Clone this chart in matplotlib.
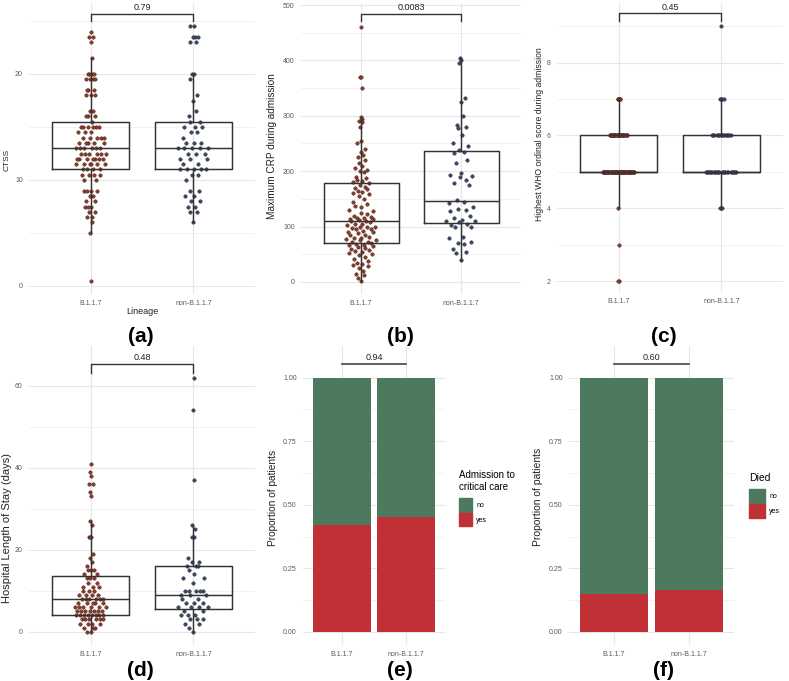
import numpy as np
import matplotlib.pyplot as plt
from matplotlib.patches import Patch

plt.rcParams['font.family'] = ['Liberation Sans', 'DejaVu Sans']

W, H = 789, 681

lineages = ['B.1.1.7', 'non-B.1.1.7']

# (a) CT severity score
ctss_b117 = [24, 23.5, 23.5, 23, 21.5, 20, 20, 20, 20, 19.5, 19.5, 19.5, 19.5,
             18.5, 18.5, 18.5, 18, 18, 18, 16.5, 16.5, 16, 16, 16, 15.5,
             15, 15, 15, 15, 15, 15, 14.5, 14.5, 14.5, 14, 14, 14, 14, 14,
             13.5, 13.5, 13.5, 13.5, 13.5, 13, 13, 13, 13, 13, 13,
             12.5, 12.5, 12.5, 12.5, 12.5, 12.5, 12, 12, 12, 12, 12, 12, 12,
             11.5, 11.5, 11.5, 11.5, 11.5, 11.5, 11, 11, 11, 11,
             10.5, 10.5, 10.5, 10.5, 10, 10, 9, 9, 9, 9, 8.5, 8.5, 8, 8,
             7.5, 7.5, 7.5, 7, 7, 6.5, 6.5, 6, 5, 0.5]
ctss_non = [24.5, 24.5, 23.5, 23.5, 23.5, 23, 23, 20, 20, 19.5, 18, 17.5, 16.5, 16,
            15.5, 15.5, 15, 15, 15, 14.5, 14.5, 14, 13.5, 13.5, 13.5,
            13, 13, 13, 13, 13, 12.5, 12.5, 12.5, 12, 12, 12, 11.5, 11.5,
            11, 11, 11, 11, 11, 10.5, 10.5, 10, 9, 9, 8.5, 8.5, 8, 8,
            7.5, 7.5, 7, 7, 6]

# (b) maximum CRP during admission
crp_b117 = [461, 370, 370, 350, 297, 295, 290, 288, 280, 255,
            250, 240, 235, 230, 225, 220, 215, 210, 205, 203,
            200, 198, 190, 188, 185, 182, 180, 178, 175, 172,
            170, 168, 165, 162, 160, 158, 155, 150, 145, 140,
            138, 135, 130, 128, 125, 122, 120, 118, 115, 115,
            114, 113, 112, 110, 110, 108, 105, 105, 102, 100,
            100, 100, 98, 95, 95, 92, 90, 90, 88, 85,
            85, 82, 80, 80, 78, 75, 75, 72, 72, 70,
            68, 67, 66, 65, 63, 62, 60, 58, 56, 55,
            52, 50, 48, 45, 42, 38, 35, 32, 30, 28,
            25, 20, 15, 12, 8, 2]
crp_non = [405, 400, 395, 332, 325, 300, 283, 280, 278, 265,
           250, 245, 238, 235, 232, 220, 215, 196, 193, 192,
           190, 184, 178, 175, 145, 148, 142, 135, 132, 130,
           128, 120, 115, 112, 110, 110, 108, 105, 103, 100,
           100, 82, 80, 72, 70, 68, 60, 55, 52, 40]

# (c) highest WHO ordinal score: score levels and counts
who_levels = [2, 3, 4, 5, 6, 7, 9]
who_counts_b117 = [2, 1, 1, 55, 30, 6, 0]
who_counts_non = [0, 0, 3, 25, 15, 4, 1]

# (d) hospital length of stay (days)
los_b117 = [41, 39, 38, 36, 36, 34, 33, 27, 26, 23, 23, 23, 19, 18, 17, 16,
            15, 15, 15, 14, 14, 13, 13, 13, 12, 12, 11, 11, 11, 10, 10, 10,
            9, 9, 9, 9, 8, 8, 8, 8, 8, 8, 7, 7, 7, 7, 7, 6, 6, 6, 6, 6, 6,
            5, 5, 5, 5, 5, 5, 5, 4, 4, 4, 4, 4, 4, 4, 4, 3, 3, 3, 3, 3, 3,
            2, 2, 2, 2, 1, 1, 1, 0, 0]
los_non = [62, 54, 37, 26, 25, 23, 23, 18, 17, 17, 16, 16, 16, 15, 14, 13, 13,
           12, 10, 10, 10, 10, 10, 9, 9, 9, 8, 8, 7, 7, 7, 6, 6, 6, 6, 5, 5,
           4, 4, 4, 3, 3, 3, 2, 2, 1, 0]

# (e), (f) proportion "yes"
critical_yes = [0.42, 0.451]
died_yes = [0.148, 0.165]

p_values = ['0.79', '0.0083', '0.45', '0.48', '0.94', '0.60']

col_pts = ['#8e3a28', '#3c4965']
col_edge = ['#3b1a12', '#1c2232']
green = '#4d7a5e'
red = '#c03035'
line_col = '#333333'
grid_major = '#e6e6e6'
grid_minor = '#f0f0f0'
tick_col = '#595959'


def vdc(i, base=2):
    x, denom = 0.0, 1.0
    while i > 0:
        denom *= base
        i, rem = divmod(i, base)
        x += rem / denom
    return x


def quasirandom(vals, width=0.16):
    v = np.asarray(vals, float)
    n = len(v)
    sd = v.std(ddof=1)
    q75, q25 = np.percentile(v, [75, 25])
    bw = 0.9 * min(sd, (q75 - q25) / 1.34) * n ** -0.2
    if bw <= 0:
        bw = 0.9 * sd * n ** -0.2
    dens = np.exp(-0.5 * ((v[:, None] - v[None, :]) / bw) ** 2).sum(axis=1)
    dens = dens / dens.max()
    order = np.argsort(v, kind='stable')
    offs = np.zeros(n)
    for rank, idx in enumerate(order):
        offs[idx] = (vdc(rank + 1) - 0.5) * 2 * width * dens[idx]
    return offs


fig = plt.figure(figsize=(W / 100, H / 100), dpi=100)


def make_ax(x0, y0, x1, y1, v_a, py_a, v_b, py_b):
    ax = fig.add_axes([x0 / W, 1 - y1 / H, (x1 - x0) / W, (y1 - y0) / H])
    scale = (py_a - py_b) / (v_b - v_a)
    ax.set_ylim(v_a - (y1 - py_a) / scale, v_a + (py_a - y0) / scale)
    ax.set_xlim(0.4, 2.6)
    for s in ax.spines.values():
        s.set_visible(False)
    ax.tick_params(which='both', length=0, colors=tick_col, labelsize=5)
    ax.tick_params(axis='x', pad=4.5)
    ax.tick_params(axis='y', pad=4.5)
    ax.set_xticks([1, 2], lineages)
    ax.grid(which='major', color=grid_major, lw=0.8, zorder=0)
    ax.grid(which='minor', axis='y', color=grid_minor, lw=0.6, zorder=0)
    ax.set_axisbelow(True)
    ax.geom = (y0, y1)
    return ax


def frac(ax, py):
    y0, y1 = ax.geom
    return (y1 - py) / (y1 - y0)


def bracket(ax, text, py_line, py_tip, py_text, x_pos=(1, 2)):
    tr = ax.get_xaxis_transform()
    a, b = x_pos
    if py_tip is None:
        ax.plot([a, b], [frac(ax, py_line)] * 2, color=line_col, lw=1.1,
                transform=tr, clip_on=False)
    else:
        ax.plot([a, a, b, b], [frac(ax, py_tip), frac(ax, py_line), frac(ax, py_line), frac(ax, py_tip)],
                color=line_col, lw=1.0, transform=tr, clip_on=False)
    ax.text((a + b) / 2, frac(ax, py_text), text, transform=tr, ha='center', va='center',
            fontsize=6.5, color='#222222')


def box_panel(ax, groups):
    for i, vals in enumerate(groups):
        offs = quasirandom(vals)
        ax.plot(i + 1 + offs, vals, 'o', ms=2.5, mfc=col_pts[i], mec=col_edge[i],
                mew=0.3, zorder=2, clip_on=False)
    lp = dict(color=line_col, lw=1.05)
    ax.boxplot(groups, positions=[1, 2], widths=0.75, whis=1.5, showfliers=False,
               showcaps=False, manage_ticks=False, boxprops=lp, whiskerprops=lp,
               medianprops=lp, zorder=3)


def bar_panel(ax, yes):
    yes = np.asarray(yes)
    ax.bar([1, 2], yes, width=0.9, color=red, zorder=2)
    ax.bar([1, 2], 1 - yes, bottom=yes, width=0.9, color=green, zorder=2)
    ax.set_yticks([0, 0.25, 0.5, 0.75, 1.0], ['0.00', '0.25', '0.50', '0.75', '1.00'])
    ax.set_yticks(np.arange(0.125, 1, 0.25), minor=True)


def ylab(x, y, s, size):
    fig.text(x / W, 1 - y / H, s, rotation=90, ha='center', va='center',
             fontsize=size, color='#222222')


def letter(x, y, s):
    fig.text(x / W, 1 - y / H, s, ha='center', va='center', fontsize=15,
             fontweight='bold', color='black')


def legend(title, x, y, title_size, key_len, gap):
    handles = [Patch(color=green), Patch(color=red)]
    leg = fig.legend(handles, ['no', 'yes'], title=title, loc='upper left',
                     bbox_to_anchor=(x / W, 1 - y / H), frameon=False,
                     fontsize=5, title_fontsize=title_size, handlelength=key_len,
                     handleheight=2.7, borderpad=0, borderaxespad=0, handletextpad=0.6,
                     labelspacing=0.12, alignment='left')
    leg._legend_box.sep = gap
    return leg


# (a)
ax = make_ax(29, 3, 255, 294, 0, 286, 20, 74)
box_panel(ax, [ctss_b117, ctss_non])
ax.set_yticks([0, 10, 20])
ax.set_yticks([5, 15, 25], minor=True)
bracket(ax, p_values[0], 14, 20.7, 7)
ylab(7, 160, 'CTSS', 6)
fig.text(142 / W, 1 - 312 / H, 'Lineage', ha='center', va='center', fontsize=6.5,
         color='#222222')
letter(141, 336, '(a)')

# (b)
ax = make_ax(301, 3, 521, 294, 0, 282, 500, 5)
box_panel(ax, [crp_b117, crp_non])
ax.set_yticks(np.arange(0, 501, 100))
ax.set_yticks(np.arange(50, 500, 100), minor=True)
bracket(ax, p_values[1], 14, 20.7, 7.3)
ylab(272, 146, 'Maximum CRP during admission', 7.2)
letter(400, 336, '(b)')

# (c)
ax = make_ax(557, 3, 783, 292, 2, 281, 8, 62.7)
who_b117 = np.repeat(who_levels, who_counts_b117)
who_non = np.repeat(who_levels, who_counts_non)
box_panel(ax, [who_b117, who_non])
ax.set_yticks([2, 4, 6, 8])
ax.set_yticks([3, 5, 7, 9], minor=True)
bracket(ax, p_values[2], 13.3, 20.7, 7.3)
ylab(539, 134, 'Highest WHO ordinal score during admission', 6.2)
letter(664, 336, '(c)')

# (d)
ax = make_ax(29, 346, 255, 645, 0, 631.7, 60, 385.7)
box_panel(ax, [los_b117, los_non])
ax.set_yticks([0, 20, 40, 60])
ax.set_yticks([10, 30, 50], minor=True)
bracket(ax, p_values[3], 364, 373, 358)
ylab(7, 528, 'Hospital Length of Stay (days)', 8)
letter(140, 670, '(d)')

# (e)
ax = make_ax(303, 346, 445, 645, 0, 632, 1, 377.7)
bar_panel(ax, critical_yes)
bracket(ax, p_values[4], 364, None, 358)
ylab(273, 498, 'Proportion of patients', 7.3)
letter(400, 670, '(e)')
legend('Admission to\ncritical care', 459, 470, 7, 1.9, 4.5)

# (f)
ax = make_ax(569, 346, 734, 645, 0, 632, 1, 377.7)
bar_panel(ax, died_yes)
bracket(ax, p_values[5], 364, None, 358)
ylab(538, 497, 'Proportion of patients', 7.5)
letter(663, 670, '(f)')
legend('Died', 749, 473, 7.5, 2.3, 4.5)

fig.savefig('out.png', dpi=100, facecolor='white')
